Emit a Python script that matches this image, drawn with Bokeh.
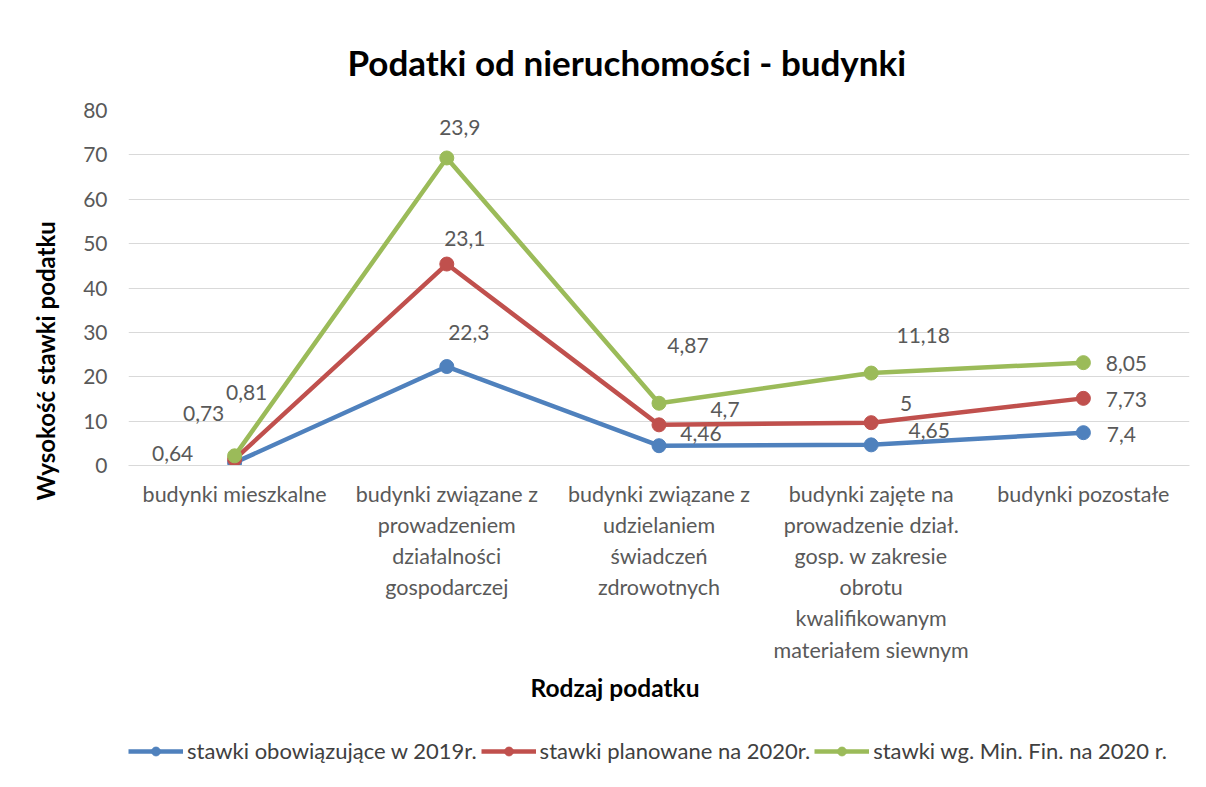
from bokeh.plotting import figure
from bokeh.layouts import column
from bokeh.models import (ColumnDataSource, Range1d, FixedTicker, Legend,
                          LegendItem, Title)
from bokeh.core.properties import value
from bokeh.embed import file_html
from bokeh.resources import INLINE

# ---------------- data ----------------
categories = [
    "budynki mieszkalne",
    "budynki związane z\nprowadzeniem\ndziałalności\ngospodarczej",
    "budynki związane z\nudzielaniem\nświadczeń\nzdrowotnych",
    "budynki zajęte na\nprowadzenie dział.\ngosp. w zakresie\nobrotu\nkwalifikowanym\nmateriałem siewnym",
    "budynki pozostałe",
]
series_names = [
    "stawki obowiązujące w 2019r.",
    "stawki planowane na 2020r.",
    "stawki wg. Min. Fin. na 2020 r.",
]
rates_2019 = [0.64, 22.3, 4.46, 4.65, 7.4]
rates_plan_2020 = [0.73, 23.1, 4.7, 5, 7.73]
rates_minfin_2020 = [0.81, 23.9, 4.87, 11.18, 8.05]
y_ticks = [0, 10, 20, 30, 40, 50, 60, 70, 80]

# label offsets (screen px) for the data labels, per series
lbl_dx = [
    [-62, 22, 42, 58, 38],
    [-31, 18, 66, 35, 43],
    [12, 13, 29, 52, 43],
]
lbl_dy = [
    [-9, -34, -12, -14, 2],
    [-46, -26, -15, -19, 1],
    [-63, -30, -58, -38, 1],
]

colors = ["#4F81BD", "#C0504D", "#9BBB59"]
FONT = "Lato"

p = figure(frame_width=1061, frame_height=355, output_backend="svg",
           toolbar_location=None,
           x_range=Range1d(-0.5, len(categories) - 0.5), y_range=Range1d(0, 80),
           min_border_left=128, min_border_right=9, min_border_top=110,
           min_border_bottom=260)
p.outline_line_color = None
p.background_fill_color = "white"
p.border_fill_color = "white"

# main title
p.title = Title(text="Podatki od nieruchomości - budynki", align="left",
                offset=219, standoff=56, text_font=FONT, text_font_style="bold",
                text_font_size="35px", text_color="#000000")

# axes
p.xaxis.ticker = FixedTicker(ticks=list(range(len(categories))))
p.xaxis.major_label_overrides = {i: c for i, c in enumerate(categories)}
p.xaxis.major_tick_line_color = None
p.xaxis.minor_tick_line_color = None
p.xaxis.axis_line_color = "#D9D9D9"
p.xaxis.major_label_text_font = FONT
p.xaxis.major_label_text_font_size = "21.5px"
p.xaxis.major_label_text_color = "#595959"
p.xaxis.major_label_standoff = 9

p.yaxis.ticker = FixedTicker(ticks=y_ticks)
p.yaxis.major_tick_line_color = None
p.yaxis.minor_tick_line_color = None
p.yaxis.axis_line_color = None
p.yaxis.major_label_text_font = FONT
p.yaxis.major_label_text_font_size = "21px"
p.yaxis.major_label_text_color = "#595959"
p.yaxis.major_label_standoff = 15

p.xgrid.grid_line_color = None
p.ygrid.grid_line_color = "#D9D9D9"
p.ygrid.grid_line_width = 1

# axis titles (as side titles so they can be shifted like in the reference)
p.add_layout(Title(text="Rodzaj podatku", align="left", offset=402, standoff=10,
                   text_font=FONT, text_font_style="bold", text_font_size="24.5px",
                   text_color="#000000"), "below")
p.add_layout(Title(text="Wysokość stawki podatku", align="left", offset=-35,
                   standoff=42, text_font=FONT, text_font_style="bold",
                   text_font_size="24px", text_color="#000000"), "left")

# legend strip (separate figure below the chart; its ranges show no data)
leg = figure(width=1198, height=50, output_backend="svg", toolbar_location=None,
             x_range=Range1d(1000, 1001), y_range=Range1d(1000, 1001),
             x_axis_location=None, y_axis_location=None, min_border=0)
leg.grid.visible = False
leg.outline_line_color = None
leg.border_fill_color = "white"
leg.background_fill_color = "white"

# stacked series
xs = list(range(len(categories)))
series_vals = [rates_2019, rates_plan_2020, rates_minfin_2020]
cum = [0.0] * len(xs)
legend_items = []
for k, vals in enumerate(series_vals):
    cum = [c + v for c, v in zip(cum, vals)]
    src = ColumnDataSource(dict(
        x=xs, y=list(cum),
        lbl=[("%g" % v).replace(".", ",") for v in vals],
        dx=lbl_dx[k], dy=lbl_dy[k],
    ))
    p.line("x", "y", source=src, line_color=colors[k], line_width=4.5)
    p.scatter("x", "y", source=src, marker="circle", size=14,
              fill_color=colors[k], line_color=colors[k])
    p.text("x", "y", text="lbl", source=src, x_offset="dx", y_offset="dy",
           text_font=value(FONT), text_font_size="21px", text_color="#595959",
           text_align="center", text_baseline="middle")
    ln = leg.line("x", "y", source=src, line_color=colors[k], line_width=4.5)
    sc = leg.scatter("x", "y", source=src, marker="circle", size=14,
                     fill_color=colors[k], line_color=colors[k])
    legend_items.append(LegendItem(label=series_names[k], renderers=[ln, sc]))

legend = Legend(items=legend_items, orientation="horizontal", location=(0, 11),
                glyph_width=55, glyph_height=22, label_standoff=4, spacing=4,
                padding=0, margin=0, border_line_color=None,
                background_fill_alpha=0,
                label_text_font=FONT, label_text_font_size="22px",
                label_text_color="#404040")
leg.add_layout(legend, "center")

layout = column(p, leg, spacing=0)
open("out.html", "w").write(file_html(layout, INLINE))
